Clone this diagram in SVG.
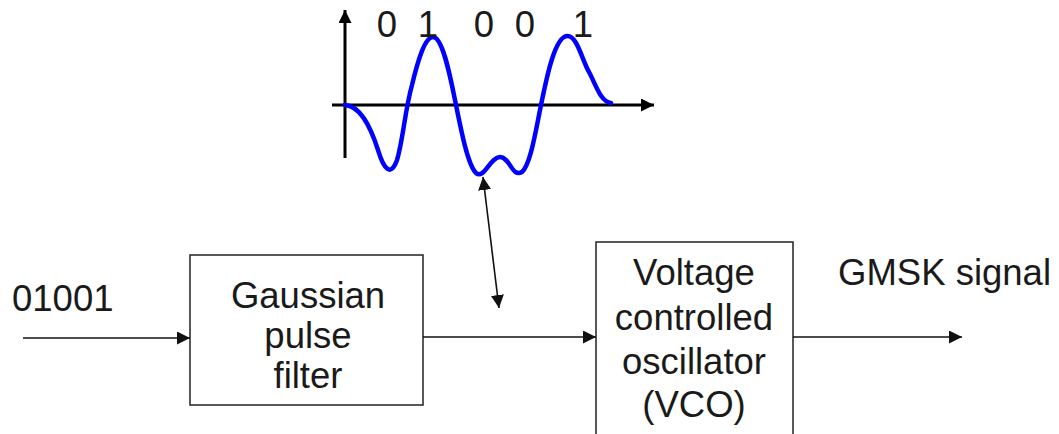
<svg xmlns="http://www.w3.org/2000/svg" width="1059" height="434" viewBox="0 0 1059 434">
<style>
.t{font-family:"Liberation Sans",Arial,sans-serif;fill:#1a1a1a;font-size:36.5px}
.c{text-anchor:middle}
.box{fill:#fff;stroke:#222;stroke-width:1.5}
.ln{stroke:#111;stroke-width:1.6;fill:none}
.ax{stroke:#000;stroke-width:3;fill:none}
</style>
<defs>
<marker id="ah" viewBox="0 0 10 10" refX="10" refY="5" markerWidth="13" markerHeight="13" markerUnits="userSpaceOnUse" orient="auto-start-reverse"><path d="M0,0 L10,5 L0,10 z" fill="#111"/></marker>
<marker id="axh" viewBox="0 0 10 10" refX="10" refY="5" markerWidth="13" markerHeight="13" markerUnits="userSpaceOnUse" orient="auto"><path d="M0,0 L10,5 L0,10 z" fill="#000"/></marker>
</defs>
<rect width="1059" height="434" fill="#fff"/>
<g id="waveform">
<line class="ax" x1="345" y1="158" x2="345" y2="10" marker-end="url(#axh)"/>
<line class="ax" x1="332" y1="105" x2="654" y2="105" marker-end="url(#axh)"/>
<path d="M345,105 C360,106 370,125 378,150 C384,170 391,177 397,160 C403,140 405,110 412,85 C418,60 425,37 433,37 C442,37 449,70 455,100 C462,135 468,165 476,173 C484,180 490,157 500,157 C510,157 512,178 522,172 C530,165 535,135 540,110 C547,75 555,37 567,36 C577,35 582,60 589,72 C596,85 600,101 611,103" fill="none" stroke="#0000ff" stroke-width="4.5" stroke-linecap="round"/>
<text class="t c" x="387" y="37" font-size="31">0</text>
<text class="t c" x="428" y="37" font-size="31">1</text>
<text class="t c" x="484" y="37" font-size="31">0</text>
<text class="t c" x="525" y="37" font-size="31">0</text>
<text class="t c" x="583" y="37" font-size="31">1</text>
</g>
<g id="input-label"><text class="t" x="12" y="311">01001</text></g>
<g id="gaussian">
<rect class="box" x="190" y="255" width="233" height="150"/>
<text class="t c" x="308" y="308">Gaussian</text>
<text class="t c" x="308" y="348">pulse</text>
<text class="t c" x="308" y="388">filter</text>
</g>
<g id="vco">
<rect class="box" x="596" y="242" width="197" height="200"/>
<text class="t c" x="694" y="285">Voltage</text>
<text class="t c" x="694" y="330">controlled</text>
<text class="t c" x="694" y="374">oscillator</text>
<text class="t c" x="694" y="417">(VCO)</text>
</g>
<g id="output-label"><text class="t" x="838" y="285">GMSK signal</text></g>
<g id="connectors">
<line class="ln" x1="23" y1="338" x2="190" y2="338" marker-end="url(#ah)"/>
<line class="ln" x1="423" y1="337" x2="596" y2="337" marker-end="url(#ah)"/>
<line class="ln" x1="793" y1="337" x2="962" y2="337" marker-end="url(#ah)"/>
<line class="ln" x1="483" y1="177" x2="499" y2="308" marker-start="url(#ah)" marker-end="url(#ah)"/>
</g>
</svg>
